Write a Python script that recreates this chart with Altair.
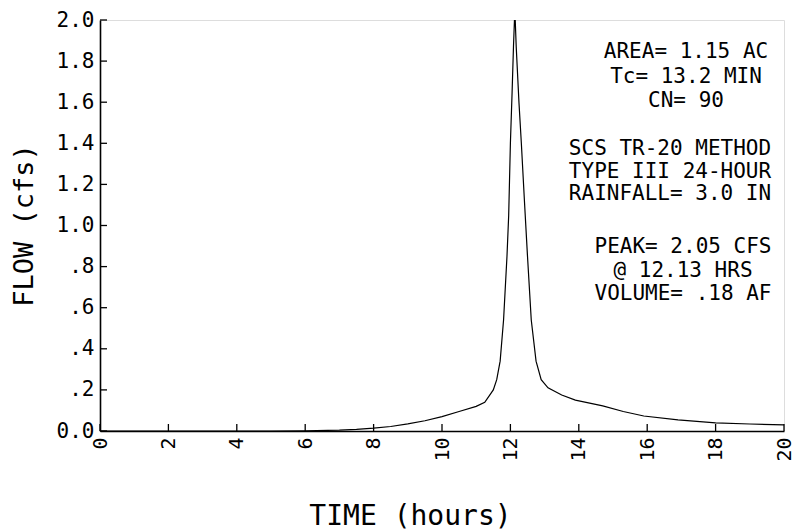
import altair as alt
import pandas as pd

# Runoff hydrograph (hours vs. cfs)
hours = [0, 2, 4, 5, 6, 7, 7.5, 8, 8.5, 9, 9.5, 10, 10.5, 11, 11.25, 11.5, 11.6,
         11.7, 11.8, 11.9, 11.95, 12.0, 12.05, 12.09, 12.13, 12.17, 12.25, 12.32,
         12.41, 12.5, 12.61, 12.75, 12.9, 13.1, 13.5, 13.9, 14.7, 15.3, 15.9,
         16.9, 18.0, 19.0, 20.0]
flow = [0.0, 0.0, 0.0, 0.0, 0.001, 0.004, 0.008, 0.014, 0.022, 0.035, 0.05, 0.07,
        0.095, 0.12, 0.14, 0.2, 0.25, 0.34, 0.54, 0.85, 1.05, 1.40, 1.65, 1.87,
        2.05, 1.87, 1.60, 1.40, 1.12, 0.85, 0.54, 0.34, 0.25, 0.21, 0.175, 0.15,
        0.122, 0.095, 0.073, 0.054, 0.04, 0.034, 0.03]

x_ticks = [0, 2, 4, 6, 8, 10, 12, 14, 16, 18, 20]
y_ticks = [0.0, 0.2, 0.4, 0.6, 0.8, 1.0, 1.2, 1.4, 1.6, 1.8, 2.0]

site_lines = ["AREA= 1.15 AC", "Tc= 13.2 MIN", "CN= 90"]
method_lines = ["SCS TR-20 METHOD", "TYPE III 24-HOUR", "RAINFALL= 3.0 IN"]
result_lines = ["PEAK= 2.05 CFS", "@ 12.13 HRS", "VOLUME= .18 AF"]

FONT = "DejaVu Sans Mono"
W, H = 684, 411

df = pd.DataFrame({"hours": hours, "flow": flow})
xs = alt.Scale(domain=[0, 20], nice=False)
ys = alt.Scale(domain=[0, 2], nice=False)

y_label = ("datum.value == 0 ? '0.0' : datum.value >= 1 ? format(datum.value, '.1f')"
           " : replace(format(datum.value, '.1f'), '0.', '.')")

x_axis = alt.Axis(
    values=x_ticks, title="TIME (hours)", labelAngle=270, labelPadding=6,
    ticks=False, grid=False, domainColor="black", domainWidth=1.6,
    labelFont=FONT, labelFontSize=20, labelColor="black",
    titleFont=FONT, titleFontSize=28, titleFontWeight="normal", titleColor="black",
    titleX=310, titleY=85, titleAlign="center", titleBaseline="middle")
y_axis = alt.Axis(
    values=y_ticks, title="FLOW (cfs)", labelExpr=y_label, labelPadding=6,
    ticks=False, grid=False, domainColor="black", domainWidth=1.6,
    labelFont=FONT, labelFontSize=21, labelColor="black", labelFlush=False,
    titleFont=FONT, titleFontSize=27, titleFontWeight="normal", titleColor="black",
    titleX=-76, titleY=205, titleAngle=270, titleAlign="center",
    titleBaseline="middle")

hydro = alt.Chart(df).mark_line(color="black", strokeWidth=1.2, clip=True).encode(
    x=alt.X("hours:Q", scale=xs, axis=x_axis),
    y=alt.Y("flow:Q", scale=ys, axis=y_axis),
)

# inward tick marks on both axes
xtick_marks = alt.Chart(pd.DataFrame({"t": x_ticks})).mark_rule(
    color="black", strokeWidth=1.3).encode(
    x=alt.X("t:Q", scale=xs, axis=x_axis), y=alt.value(H), y2=alt.value(H - 7))
ytick_marks = alt.Chart(pd.DataFrame({"t": y_ticks})).mark_rule(
    color="black", strokeWidth=1.3).encode(
    y=alt.Y("t:Q", scale=ys, axis=y_axis), x=alt.value(0), x2=alt.value(7))


def block(lines, cx, top, spacing):
    return alt.Chart(pd.DataFrame({"k": [0]})).mark_text(
        text=lines, font=FONT, fontSize=21, color="black", align="center",
        baseline="top", lineHeight=spacing).encode(
        x=alt.value(cx), y=alt.value(top))


chart = alt.layer(
    hydro, xtick_marks, ytick_marks,
    block(site_lines, 586, 21, 24.5),
    block(method_lines, 570, 118, 22.5),
    block(result_lines, 583, 216, 23.5),
).properties(
    width=W, height=H,
    autosize=alt.AutoSizeParams(type="none"),
    padding={"left": 100, "top": 20, "right": 10, "bottom": 100},
).configure_view(strokeOpacity=0, strokeWidth=0).configure(background="white")

chart.save("out.html", embed_options={"renderer": "svg", "actions": False})
